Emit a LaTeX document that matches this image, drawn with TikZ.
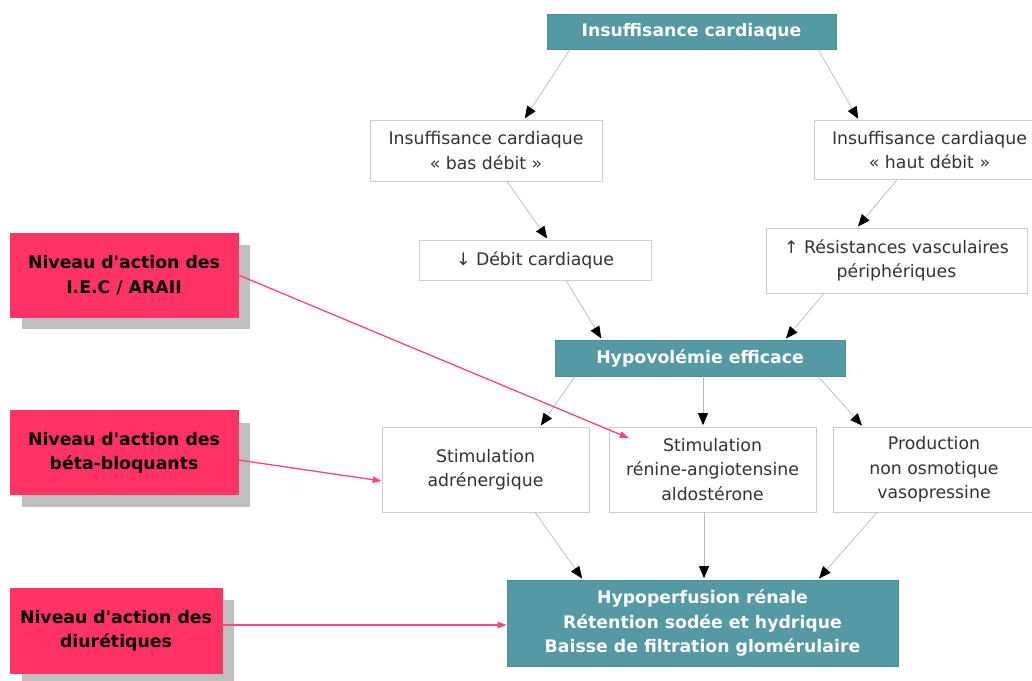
\documentclass[tikz,border=0pt]{standalone}
\usepackage{fontspec}
\setmainfont{DejaVu Sans}
\usepackage{tikz}
\usetikzlibrary{arrows.meta,shadows}
\usepackage{xcolor}
\definecolor{myteal}{HTML}{5499A4}
\definecolor{mypink}{HTML}{FF3366}
\definecolor{myarrowpink}{HTML}{FF4477}
\definecolor{myshadow}{HTML}{BFBFBF}
\definecolor{myborder}{HTML}{CCCCCC}
\definecolor{mytext}{HTML}{333333}
\tikzset{
  >=latex,
  box/.style={draw=myborder,line width=0.7pt,align=center,inner sep=2pt,
    font=\fontsize{17.3}{24.5}\selectfont},
  box white/.style={box,fill=white,text=mytext},
  box teal/.style={box,fill=myteal,draw=myteal!90!black,text=white,
    font=\fontsize{17.3}{24.5}\selectfont\bfseries},
  box action/.style={box,fill=mypink,draw=mypink,text=black,
    font=\fontsize{17.3}{24.5}\selectfont\bfseries,
    drop shadow={shadow xshift=12pt,shadow yshift=-12pt,fill=myshadow,opacity=1}},
  flow/.style={draw=gray!55,line width=0.7pt,
    -{Triangle[length=12pt,width=10pt,color=black]},shorten >=1.5pt},
  action/.style={draw=myarrowpink,line width=1.3pt,
    -{Triangle[length=9pt,width=6.5pt]}}
}

\begin{document}
\begin{tikzpicture}[x=1pt, y=-1pt]

\useasboundingbox (0,0) rectangle (1032,680);

% Chaine principale
\node[box teal, minimum width=289, minimum height=35] (ic) at (691.5, 31.5) {Insuffisance cardiaque};

\node[box white, minimum width=232, minimum height=61] (icbas) at (486, 150.5) {Insuffisance cardiaque\\« bas débit »};
\node[box white, minimum width=230, minimum height=59] (ichaut) at (929.5, 150) {Insuffisance cardiaque\\« haut débit »};

\node[box white, minimum width=232, minimum height=40] (debit) at (535, 260) {↓ Débit cardiaque};
\node[box white, minimum width=261, minimum height=65] (resist) at (896.5, 260.5) {↑ Résistances vasculaires\\périphériques};

\node[box teal, minimum width=290, minimum height=36] (hypo) at (700, 358) {Hypovolémie efficace};

\node[box white, minimum width=207, minimum height=85] (adr) at (485.5, 469.5) {Stimulation\\adrénergique};
\node[box white, minimum width=207, minimum height=85] (raa) at (712.5, 469.5) {Stimulation\\rénine-angiotensine\\aldostérone};
\node[box white, minimum width=202, minimum height=85] (adh) at (934, 469.5) {Production\\non osmotique\\vasopressine};

\node[box teal, minimum width=391, minimum height=86] (renal) at (702.5, 623) {Hypoperfusion rénale\\Rétention sodée et hydrique\\Baisse de filtration glomérulaire};

% Niveaux d'action
\node[box action, minimum width=228, minimum height=84] (act-iec) at (124, 275) {Niveau d\textquotesingle action des\\I.E.C / ARAII};
\node[box action, minimum width=228, minimum height=84] (act-beta) at (124, 452.5) {Niveau d\textquotesingle action des\\béta-bloquants};
\node[box action, minimum width=212, minimum height=85] (act-diur) at (116, 630.5) {Niveau d\textquotesingle action des\\diurétiques};

% Connexions
\draw[flow] ([xshift=-121.5pt]ic.south) -- ([xshift=38pt]icbas.north);
\draw[flow] ([xshift=126.5pt]ic.south) -- ([xshift=-70.5pt]ichaut.north);
\draw[flow] ([xshift=21pt]icbas.south) -- ([xshift=13pt]debit.north);
\draw[flow] ([xshift=-32.5pt]ichaut.south) -- ([xshift=-39.5pt]resist.north);
\draw[flow] ([xshift=31pt]debit.south) -- ([xshift=-98pt]hypo.north);
\draw[flow] ([xshift=-72.5pt]resist.south) -- ([xshift=85pt]hypo.north);
\draw[flow] ([xshift=-125pt]hypo.south) -- ([xshift=54.5pt]adr.north);
\draw[flow] ([xshift=3pt]hypo.south) -- ([xshift=-9.5pt]raa.north);
\draw[flow] ([xshift=118pt]hypo.south) -- ([xshift=-71pt]adh.north);
\draw[flow] ([xshift=49.5pt]adr.south) -- ([xshift=-119.5pt]renal.north);
\draw[flow] ([xshift=-8.5pt]raa.south) -- ([xshift=1.5pt]renal.north);
\draw[flow] ([xshift=-57pt]adh.south) -- ([xshift=115.5pt]renal.north);

% Fleches d'action
\draw[action] (act-iec.east) -- ([xshift=20pt,yshift=31.5pt]raa.west);
\draw[action] ([yshift=-7.5pt]act-beta.east) -- ([yshift=-11.5pt]adr.west);
\draw[action] ([yshift=5.5pt]act-diur.east) -- ([yshift=-2pt]renal.west);

\end{tikzpicture}
\end{document}
